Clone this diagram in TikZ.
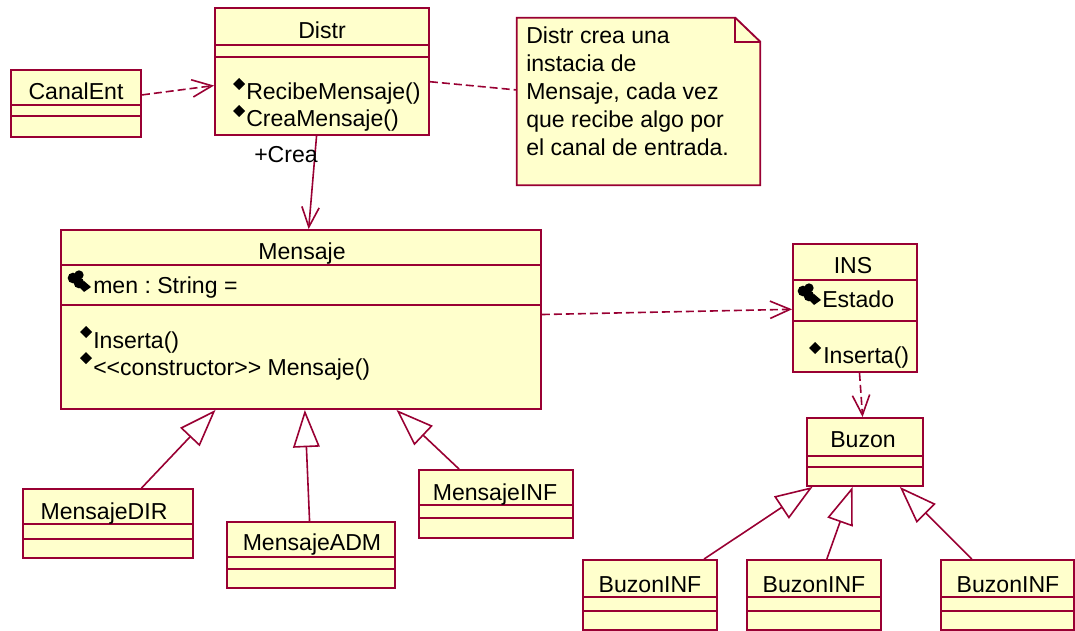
\documentclass[tikz,border=0pt]{standalone}
\usepackage{fontspec}
\setmainfont{Liberation Sans}
\usetikzlibrary{positioning,arrows.meta,calc,fit}
\definecolor{rosered}{HTML}{990033}
\definecolor{roseyellow}{HTML}{FFFFCC}
\frenchspacing

\begin{document}
\begin{tikzpicture}[
  x=0.75pt, y=-0.75pt,
  font=\fontsize{17.3}{21}\selectfont,
  cls/.style={draw=rosered, fill=roseyellow, line width=1.4pt, inner sep=0pt},
  sep/.style={draw=rosered, line width=1.4pt},
  lbl/.style={anchor=base, inner sep=0pt},
  item/.style={anchor=base west, inner sep=0pt},
  dep/.style={draw=rosered, line width=1.2pt, dash pattern=on 6pt off 3pt, -{Straight Barb[length=15pt, width=13pt]}},
  assoc/.style={draw=rosered, line width=1.2pt, -{Straight Barb[length=15pt, width=13pt]}},
  gen/.style={draw=rosered, line width=1.2pt, -{Triangle[length=28pt, width=20pt, fill=white]}},
  link/.style={draw=rosered, line width=1.2pt, dash pattern=on 6pt off 3pt},
  opicon/.pic={\fill (0,-6) -- (6,0) -- (0,6) -- (-6,0) -- cycle;},
  attricon/.pic={
    \fill (5,8) circle (4pt);
    \fill (11,5) circle (3.5pt);
    \fill (11,13) circle (4pt);
    \fill (16,11) -- (23,17) -- (16,22) -- (11,17) -- cycle;}
]
\useasboundingbox (0,0) rectangle (1075,631);

% Classes
\node[cls, fit={(11,70) (141,137)}] (canal) {};
\node[cls, fit={(215,8) (429,135)}] (distr) {};
\node[cls, fit={(61,230) (541,409)}] (mensaje) {};
\node[cls, fit={(793,244) (917,372)}] (ins) {};
\node[cls, fit={(807,418) (923,486)}] (buzon) {};
\node[cls, fit={(23,489) (193,558)}] (mdir) {};
\node[cls, fit={(227,522) (395,588)}] (madm) {};
\node[cls, fit={(419,470) (573,538)}] (minf) {};
\node[cls, fit={(583,560) (717,630)}] (binf1) {};
\node[cls, fit={(747,560) (881,630)}] (binf2) {};
\node[cls, fit={(941,560) (1074,630)}] (binf3) {};

% Compartments
\draw[sep] ($(canal.north west)+(0,36)$) -- ($(canal.north east)+(0,36)$);
\draw[sep] ($(canal.north west)+(0,47)$) -- ($(canal.north east)+(0,47)$);
\draw[sep] ($(distr.north west)+(0,38)$) -- ($(distr.north east)+(0,38)$);
\draw[sep] ($(distr.north west)+(0,50)$) -- ($(distr.north east)+(0,50)$);
\draw[sep] ($(mensaje.north west)+(0,36)$) -- ($(mensaje.north east)+(0,36)$);
\draw[sep] ($(mensaje.north west)+(0,76)$) -- ($(mensaje.north east)+(0,76)$);
\draw[sep] ($(ins.north west)+(0,37)$) -- ($(ins.north east)+(0,37)$);
\draw[sep] ($(ins.north west)+(0,78)$) -- ($(ins.north east)+(0,78)$);
\draw[sep] ($(buzon.north west)+(0,39)$) -- ($(buzon.north east)+(0,39)$);
\draw[sep] ($(buzon.north west)+(0,50)$) -- ($(buzon.north east)+(0,50)$);
\draw[sep] ($(mdir.north west)+(0,36)$) -- ($(mdir.north east)+(0,36)$);
\draw[sep] ($(mdir.north west)+(0,51)$) -- ($(mdir.north east)+(0,51)$);
\draw[sep] ($(madm.north west)+(0,36)$) -- ($(madm.north east)+(0,36)$);
\draw[sep] ($(madm.north west)+(0,48)$) -- ($(madm.north east)+(0,48)$);
\draw[sep] ($(minf.north west)+(0,36)$) -- ($(minf.north east)+(0,36)$);
\draw[sep] ($(minf.north west)+(0,49)$) -- ($(minf.north east)+(0,49)$);
\draw[sep] ($(binf1.north west)+(0,38)$) -- ($(binf1.north east)+(0,38)$);
\draw[sep] ($(binf1.north west)+(0,52)$) -- ($(binf1.north east)+(0,52)$);
\draw[sep] ($(binf2.north west)+(0,38)$) -- ($(binf2.north east)+(0,38)$);
\draw[sep] ($(binf2.north west)+(0,52)$) -- ($(binf2.north east)+(0,52)$);
\draw[sep] ($(binf3.north west)+(0,38)$) -- ($(binf3.north east)+(0,38)$);
\draw[sep] ($(binf3.north west)+(0,52)$) -- ($(binf3.north east)+(0,52)$);

% Note
\node[inner sep=0pt, fit={(517,18) (760,185)}] (note) {};
\draw[cls] (note.north west) -- ($(note.north east)+(-25,0)$) -- ($(note.north east)+(0,24)$)
  -- (note.south east) -- (note.south west) -- cycle;
\draw[sep] ($(note.north east)+(-25,0)$) -- ($(note.north east)+(-25,24)$) -- ($(note.north east)+(0,24)$);
\node[anchor=north west, inner sep=0pt, align=left] (notetxt) at (526,27)
  {Distr crea una\\instacia de\\Mensaje, cada vez\\que recibe algo por\\el canal de entrada.};

% Names
\node[lbl] (canalT) at (76,100) {CanalEnt};
\node[lbl] (distrT) at (322,39) {Distr};
\node[lbl] (mensajeT) at (302,260) {Mensaje};
\node[lbl] (insT) at (853,273) {INS};
\node[lbl] (buzonT) at (863,447) {Buzon};
\node[lbl] (mdirT) at (104,519) {MensajeDIR};
\node[lbl] (madmT) at (312,550) {MensajeADM};
\node[lbl] (minfT) at (495,500) {MensajeINF};
\node[lbl] (binf1T) at (650,592) {BuzonINF};
\node[lbl] (binf2T) at (814,592) {BuzonINF};
\node[lbl] (binf3T) at (1008,592) {BuzonINF};

% Attributes and operations
\pic at (239,84) {opicon};
\node[item] (recibe) at (246,100) {RecibeMensaje()};
\pic at (239,111) {opicon};
\node[item] (crea) at (246,127) {CreaMensaje()};
\pic at (68,270) {attricon};
\node[item] (men) at (93,293) {men : String =};
\pic at (86,332) {opicon};
\node[item] (inserta) at (93,348) {Inserta()};
\pic at (86,358) {opicon};
\node[item] (ctor) at (93,375) {<\kern0pt<constructor>\kern0pt> Mensaje()};
\pic at (798,283) {attricon};
\node[item] (estado) at (822,307) {Estado};
\pic at (815,348) {opicon};
\node[item] (insops) at (823,363) {Inserta()};

% Relations
\draw[dep] (canal) -- (distr);
\draw[link] (distr) -- (note);
\draw[assoc] (distr) -- (mensaje);
\node[item] (crearole) at (254,163) {+Crea};
\draw[dep] (mensaje) -- (ins);
\draw[dep] (ins) -- (buzon);
\draw[gen] (mdir) -- (mensaje);
\draw[gen] (madm) -- (mensaje);
\draw[gen] (minf) -- (mensaje);
\draw[gen] (binf1) -- (buzon);
\draw[gen] (binf2) -- (buzon);
\draw[gen] (binf3) -- (buzon);

\end{tikzpicture}
\end{document}
